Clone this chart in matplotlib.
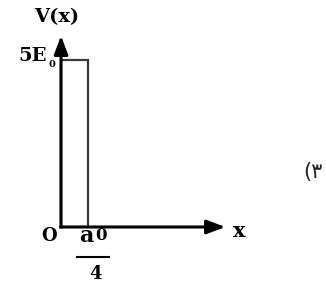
import matplotlib
matplotlib.use('Agg')
import matplotlib.pyplot as plt

# Potential barrier V(x): height 5E0 over 0 < x < a0/4
barrier_x = [0, 0, 0.25, 0.25]
barrier_v = [0, 5, 5, 0]
x_axis_end = 1.52   # in units of a0
v_axis_end = 5.72   # in units of E0

plt.rcParams['font.family'] = ['DejaVu Serif']
plt.rcParams['font.weight'] = 'bold'

fig = plt.figure(figsize=(3.26, 2.83), dpi=100)
ax = fig.add_axes([0, 0, 1, 1])
ax.set_xlim(-0.565, 2.454)
ax.set_ylim(-1.677, 6.796)
ax.axis('off')

# barrier outline
ax.plot(barrier_x, barrier_v, color='#3a3a3a', lw=1.6, solid_joinstyle='miter')

# axes with arrow heads
arrow = dict(arrowstyle='-|>,head_length=1.1,head_width=0.42', color='black',
             lw=2.2, shrinkA=0, shrinkB=0, mutation_scale=10, capstyle='projecting')
ax.annotate('', xy=(x_axis_end, 0), xytext=(0, 0), arrowprops=arrow)
ax.annotate('', xy=(0, v_axis_end), xytext=(0, 0), arrowprops=arrow)

# labels
ax.text(-0.042, 6.14, 'V(x)', fontsize=14, ha='center', va='baseline')
ax.text(-0.13, 4.97, '5E', fontsize=14, ha='right', va='baseline')
ax.text(-0.083, 4.80, '0', fontsize=7, ha='center', va='baseline')
ax.text(-0.111, -0.42, 'O', fontsize=13, ha='center', va='baseline')
ax.text(0.231, -0.45, 'a', fontsize=16, ha='center', va='baseline')
ax.text(0.315, -0.40, '0', fontsize=12, ha='left', va='baseline')
ax.plot([0.148, 0.444], [-0.90, -0.90], color='black', lw=1.5)
ax.text(0.315, -1.56, '4', fontsize=13, ha='center', va='baseline')
ax.text(1.65, -0.30, 'x', fontsize=15, ha='center', va='baseline')
ax.text(2.33, 1.47, '(۳', fontsize=15, ha='center', va='baseline',
        family=['DejaVu Sans'], fontweight='normal', color='#222222')

fig.savefig('out.png', dpi=100)
